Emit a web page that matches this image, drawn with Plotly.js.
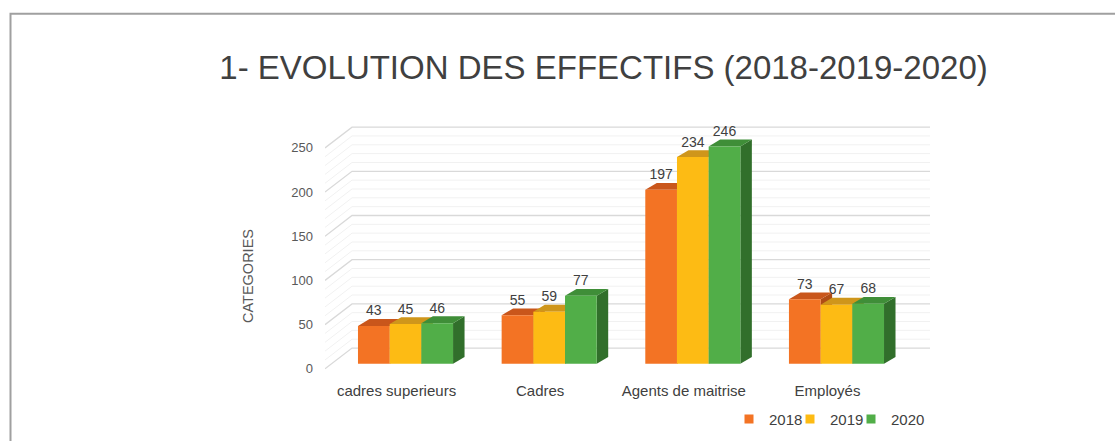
<!DOCTYPE html>
<html>
<head>
<meta charset="utf-8">
<script src="https://cdn.plot.ly/plotly-3.0.1.min.js"></script>
<style>html,body{margin:0;padding:0;background:#fff;}#chart{width:1115px;height:441px;}</style>
</head>
<body>
<div id="chart"></div>
<script>
// ---- data ----
const categories = ['cadres superieurs', 'Cadres', 'Agents de maitrise', 'Employés'];
const years = ['2018', '2019', '2020'];
const values2018 = [43, 55, 197, 73];
const values2019 = [45, 59, 234, 67];
const values2020 = [46, 77, 246, 68];
const yTickVals = [0, 50, 100, 150, 200, 250];
const minorStep = 10;
const yMax = 250;

// ---- style / geometry (pixels -> axis units) ----
const series = [values2018, values2019, values2020];
const frontColors = ['#F37324', '#FDBB14', '#51AE48'];
const topColors = ['#C9561B', '#CF961B', '#3F8E38'];
const sideColors = ['#B04C15', '#B5830F', '#316F2B'];
const FONT = 'Liberation Sans, Arial, sans-serif';
const barW = 0.2206;       // category units
const depthX = 0.08;       // category units
const depthY = 7.8;        // value units
const wallDX0 = -0.5605, wallDX1 = -0.3724, wallRight = 3.651; // side wall / back wall x
const wallDY = 23.5;       // back wall vertical offset (value units)

const traces = [];

// gridlines (side wall slant + back wall)
function gridTrace(vals, color, width) {
  const xs = [], ys = [];
  vals.forEach(t => {
    xs.push(wallDX0, wallDX1, wallRight, null);
    ys.push(t, t + wallDY, t + wallDY, null);
  });
  return {type: 'scatter', mode: 'lines', x: xs, y: ys, xaxis: 'x', yaxis: 'y',
    line: {color: color, width: width}, hoverinfo: 'skip', showlegend: false, cliponaxis: false};
}
const minorVals = [], majorVals = [];
for (let t = 0; t <= yMax; t += minorStep) {
  if (yTickVals.includes(t)) majorVals.push(t); else minorVals.push(t);
}
traces.push(gridTrace(minorVals, '#F1F1F1', 1));
traces.push(gridTrace(majorVals, '#D9D9D9', 1.3));

// 3D bars
function poly(xs, ys, color) {
  return {type: 'scatter', mode: 'lines', fill: 'toself', fillcolor: color,
    x: xs.concat([xs[0]]), y: ys.concat([ys[0]]), xaxis: 'x', yaxis: 'y2',
    line: {width: 0, color: color}, hoverinfo: 'skip', showlegend: false};
}
categories.forEach((c, j) => {
  series.forEach((vals, s) => {
    const v = vals[j];
    const x0 = j + (s - 1) * barW - barW / 2;
    const x1 = x0 + barW;
    traces.push(poly([x1, x1 + depthX, x1 + depthX, x1], [0, depthY, v + depthY, v], sideColors[s]));
    traces.push(poly([x0, x0 + depthX, x1 + depthX, x1], [v, v + depthY, v + depthY, v], topColors[s]));
    traces.push(poly([x0, x1, x1, x0], [0, 0, v, v], frontColors[s]));
  });
});

// data labels
series.forEach((vals, s) => {
  traces.push({type: 'scatter', mode: 'text', xaxis: 'x', yaxis: 'y2',
    x: categories.map((c, j) => j + (s - 1) * barW),
    y: vals.map(v => v + depthY),
    text: vals.map(String), textposition: 'top center',
    textfont: {family: FONT, size: 14, color: '#404040'},
    hoverinfo: 'skip', showlegend: false, cliponaxis: false});
});

// legend entries (one small legend per year, laid out in a row)
const legendNames = ['legend', 'legend2', 'legend3'];
years.forEach((yr, s) => {
  traces.push({type: 'scatter', mode: 'markers', name: yr, x: [null], y: [null],
    xaxis: 'x', yaxis: 'y2', legend: legendNames[s],
    marker: {symbol: 'square', size: 9, color: frontColors[s]}, hoverinfo: 'skip'});
});

// plot area: x 325..930, y 120..436
const k = 0.895; // px per value unit
const plotH = 316, plotW = 605;
const yr0 = -(436 - 372) / k, yr1 = yr0 + plotH / k;
const y2r0 = -(436 - 367) / k, y2r1 = y2r0 + plotH / k;

function legendAt(px) {
  return {orientation: 'h', x: (px - 325) / plotW, xanchor: 'left', y: (436 - 423) / plotH, yanchor: 'middle',
    font: {family: FONT, size: 15, color: '#404040'}, itemwidth: 30, bgcolor: 'rgba(0,0,0,0)'};
}

const layout = {
  width: 1115, height: 441,
  margin: {l: 325, r: 185, t: 120, b: 5},
  paper_bgcolor: '#ffffff', plot_bgcolor: 'rgba(0,0,0,0)',
  font: {family: FONT, color: '#595959', size: 13},
  title: {text: '1- EVOLUTION DES EFFECTIFS (2018-2019-2020)', xref: 'container', yref: 'container',
    x: 0.5413, xanchor: 'center', y: 1 - 67 / 441, yanchor: 'middle',
    font: {family: FONT, size: 33, color: '#404040'}},
  xaxis: {range: [wallDX0, wallRight], anchor: 'free', position: (436 - 383) / plotH,
    tickvals: categories.map((c, j) => j), ticktext: categories, ticklabelshift: -9,
    showgrid: false, zeroline: false, showline: false, ticks: '',
    tickfont: {family: FONT, size: 15, color: '#404040'}, fixedrange: true},
  yaxis: {range: [yr0, yr1], tickvals: yTickVals, ticktext: yTickVals.map(String),
    showgrid: false, zeroline: false, showline: false, ticks: '', ticklabelstandoff: 11,
    tickfont: {family: FONT, size: 13, color: '#595959'},
    title: {text: 'CATEGORIES', font: {family: FONT, size: 14.5, color: '#595959'}, standoff: 34},
    fixedrange: true},
  yaxis2: {range: [y2r0, y2r1], overlaying: 'y', visible: false, fixedrange: true},
  showlegend: true,
  legend: legendAt(729),
  legend2: legendAt(790),
  legend3: legendAt(851),
  shapes: [{type: 'rect', xref: 'paper', yref: 'paper',
    x0: (10.5 - 325) / plotW, x1: 2, y0: -1, y1: (436 - 12.5) / plotH,
    line: {color: '#A0A0A0', width: 2}, fillcolor: 'rgba(0,0,0,0)', layer: 'above'}]
};

Plotly.newPlot('chart', traces, layout, {displayModeBar: false, staticPlot: true});
</script>
</body>
</html>
